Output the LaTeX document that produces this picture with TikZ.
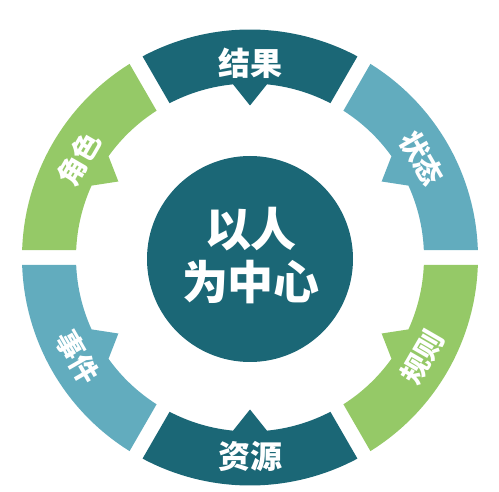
\documentclass[tikz,border=0pt]{standalone}
\usepackage{fontspec}
\newfontfamily\cjk{Noto Sans CJK SC}
\definecolor{cdark}{RGB}{27,103,118}
\definecolor{clight}{RGB}{98,172,190}
\definecolor{cgreen}{RGB}{149,201,103}
\newcommand\ringseg[3]{%
  \fill[#3] ({#1+1.885}:228pt) arc[start angle={#1+1.885}, end angle={#2-1.885}, radius=228pt]
    -- ({#2-2.47}:174pt) arc[start angle={#2-2.47}, end angle={(#1+#2)/2+5.6}, radius=174pt]
    -- ({(#1+#2)/2}:152pt) -- ({(#1+#2)/2-5.6}:174pt)
    arc[start angle={(#1+#2)/2-5.6}, end angle={#1+2.47}, radius=174pt] -- cycle;}
\tikzset{
  biglbl/.style={text=white, inner sep=0pt, font=\cjk\bfseries\fontsize{32}{32}\selectfont},
  lbl/.style={text=white, inner sep=0pt, font=\cjk\bfseries\fontsize{28}{28}\selectfont},
  hublbl/.style={text=white, inner sep=0pt, align=center, font=\cjk\bfseries\fontsize{46}{53}\selectfont}
}
\begin{document}
\begin{tikzpicture}
\useasboundingbox (0,0) rectangle (499pt,491pt);
\begin{scope}[shift={(250pt,233.5pt)}]
  \ringseg{0}{60}{clight}
  \ringseg{60}{120}{cdark}
  \ringseg{120}{180}{cgreen}
  \ringseg{180}{240}{clight}
  \ringseg{240}{300}{cdark}
  \ringseg{300}{360}{cgreen}
  \node[biglbl] (jg) at (0,194pt) {结果};
  \node[biglbl] (zy) at (0,-199pt) {资源};
  \node[lbl, rotate=-60] (zt) at (30:199pt) {状态};
  \node[lbl, rotate=60] (js) at (150:197pt) {角色};
  \node[lbl, rotate=-60] (sj) at (210:199pt) {事件};
  \node[lbl, rotate=60] (gz) at (330:199pt) {规则};
\end{scope}
\fill[cdark] (250pt,232pt) circle[radius=103pt];
\node[hublbl] (hub) at (251pt,235pt) {以人\\为中心};
\end{tikzpicture}
\end{document}
